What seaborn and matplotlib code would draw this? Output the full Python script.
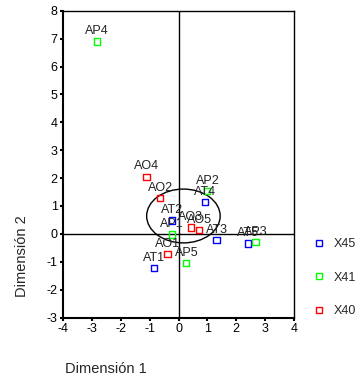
import numpy as np
import pandas as pd
import matplotlib
matplotlib.use("Agg")
import matplotlib.pyplot as plt
from matplotlib.patches import Ellipse
from matplotlib.lines import Line2D
import seaborn as sns

# points, grouped by variable
at_labels = ["AT1", "AT2", "AT3", "AT4", "AT5"]
at_x = [-0.86, -0.22, 1.32, 0.92, 2.41]
at_y = [-1.22, 0.48, -0.22, 1.13, -0.35]

ap_labels = ["AP1", "AP2", "AP3", "AP4", "AP5"]
ap_x = [-0.23, 1.00, 2.67, -2.83, 0.27]
ap_y = [-0.02, 1.53, -0.30, 6.90, -1.05]

ao_labels = ["AO1", "AO2", "AO3", "AO4", "AO5"]
ao_x = [-0.38, -0.64, 0.43, -1.11, 0.72]
ao_y = [-0.73, 1.29, 0.23, 2.05, 0.13]

groups = ["X45", "X41", "X40"]
colors = {"X45": "#0000ff", "X41": "#00ff00", "X40": "#ff0000"}

x_ticks = [-4, -3, -2, -1, 0, 1, 2, 3, 4]
y_ticks = [-3, -2, -1, 0, 1, 2, 3, 4, 5, 6, 7, 8]

df = pd.DataFrame({
    "label": at_labels + ap_labels + ao_labels,
    "x": at_x + ap_x + ao_x,
    "y": at_y + ap_y + ao_y,
    "group": ["X45"] * 5 + ["X41"] * 5 + ["X40"] * 5,
})

sns.set_style("white")
plt.rcParams["font.family"] = ["Liberation Sans", "DejaVu Sans"]
plt.rcParams["axes.unicode_minus"] = False

fig = plt.figure(figsize=(3.61, 3.83), dpi=100)
ax = fig.add_axes([0.175, 0.171, 0.639, 0.801])

ax.axhline(0, color="black", lw=1, zorder=1)
ax.axvline(0, color="black", lw=1, zorder=1)
ax.add_patch(Ellipse((0.17, 0.64), 2.55, 1.93, fill=False, ec="black", lw=1, zorder=1))

sns.scatterplot(data=df, x="x", y="y", hue="group", palette=colors, marker="s",
                s=20, linewidth=1, legend=False, ax=ax, zorder=3)
for coll in ax.collections:
    fc = coll.get_facecolors()
    coll.set_edgecolors(fc)
    coll.set_facecolors("none")

for _, r in df.iterrows():
    ax.annotate(r["label"], (r["x"], r["y"]), xytext=(0, 3), textcoords="offset points",
                ha="center", va="bottom", fontsize=9, color="#222222")

ax.set_xlim(-4, 4)
ax.set_ylim(-3, 8)
ax.set_xticks(x_ticks)
ax.set_yticks(y_ticks)
ax.tick_params(axis="both", labelsize=9, direction="out", length=2, width=1.5, pad=2,
               left=True, bottom=True, colors="black")
ax.set_xlabel("")
ax.set_ylabel("")
for sp in ax.spines.values():
    sp.set_color("black")
    sp.set_linewidth(1)
ax.spines["left"].set_linewidth(1.5)
ax.spines["bottom"].set_linewidth(1.5)

fig.text(0.06, 0.33, "Dimensión 2", rotation=90, ha="center", va="center", fontsize=10.5)
fig.text(0.18, 0.037, "Dimensión 1", ha="left", va="center", fontsize=10.5)

handles = [Line2D([], [], ls="none", marker="s", ms=4, mfc="none", mec=colors[g], mew=1)
           for g in groups]
fig.legend(handles, groups, loc="center left", bbox_to_anchor=(0.84, 0.275), frameon=False,
           fontsize=9, labelspacing=1.7, handlelength=0.8, handletextpad=0.7)

fig.savefig("out.png", dpi=100)
